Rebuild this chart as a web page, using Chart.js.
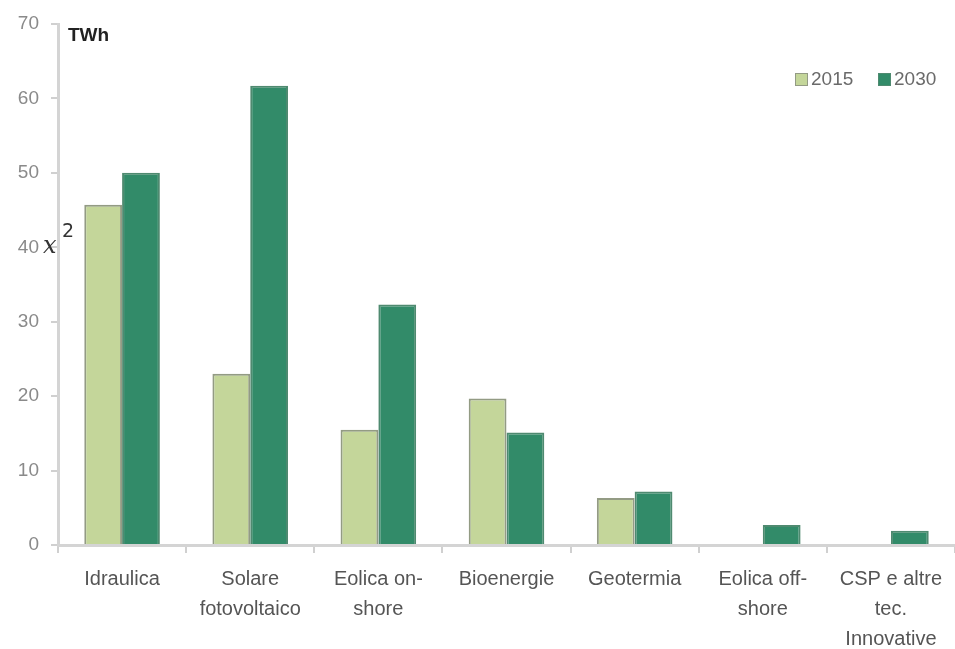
<!DOCTYPE html>
<html>
<head>
<meta charset="utf-8">
<script src="https://cdn.jsdelivr.net/npm/chart.js@4/dist/chart.umd.min.js"></script>
<style>
  html, body { margin: 0; padding: 0; background: #fff; }
  #wrap { width: 955px; height: 649px; }
</style>
</head>
<body>
<div id="wrap"><canvas id="chart" width="955" height="649"></canvas></div>
<script>
// produzione da rinnovabili, TWh
const categorie = [
    'Idraulica',
    ['Solare', 'fotovoltaico'],
    ['Eolica on-', 'shore'],
    'Bioenergie',
    'Geotermia',
    ['Eolica off-', 'shore'],
    ['CSP e altre', 'tec.', 'Innovative']
];
const anni = ['2015', '2030'];
const valori2015 = [45.7, 23.0, 15.5, 19.7, 6.3, 0, 0];
const valori2030 = [50.0, 61.7, 32.3, 15.1, 7.2, 2.7, 1.9];
const yTicks = [0, 10, 20, 30, 40, 50, 60, 70];

const FILL = ['#c4d69a', '#328b69'];
const BORDER = ['#939b84', '#4f8a70'];
const FONT = "'Liberation Sans', Arial, sans-serif";

// legenda, unità e annotazione disegnate sopra il grafico
const extras = {
    id: 'extras',
    afterDraw(chart) {
        const ctx = chart.ctx;
        const area = chart.chartArea;
        ctx.save();

        ctx.fillStyle = '#222';
        ctx.font = 'bold 19px ' + FONT;
        ctx.textBaseline = 'middle';
        ctx.fillText('TWh', area.left + 10, 36);

        ctx.fillStyle = '#333';
        ctx.font = 'italic 24px "DejaVu Serif", serif';
        ctx.textBaseline = 'alphabetic';
        ctx.fillText('x', 43, 253);
        ctx.font = '19px "DejaVu Sans", sans-serif';
        ctx.fillText('2', 62, 237);

        let x = 795;
        const y = 80;
        ctx.font = '19px ' + FONT;
        ctx.textBaseline = 'middle';
        chart.data.datasets.forEach((ds, i) => {
            ctx.fillStyle = ds.backgroundColor;
            ctx.fillRect(x, y - 7, 13, 13);
            ctx.strokeStyle = ds.borderColor;
            ctx.lineWidth = 1;
            ctx.strokeRect(x + 0.5, y - 6.5, 12, 12);
            ctx.fillStyle = '#6a6a6a';
            ctx.fillText(ds.label, x + 16, y);
            x += 83;
        });
        ctx.restore();
    }
};

new Chart(document.getElementById('chart'), {
    type: 'bar',
    data: {
        labels: categorie,
        datasets: [
            { label: anni[0], data: valori2015, backgroundColor: FILL[0], borderColor: BORDER[0], borderWidth: 2 },
            { label: anni[1], data: valori2030, backgroundColor: FILL[1], borderColor: BORDER[1], borderWidth: 2 }
        ]
    },
    options: {
        responsive: false,
        animation: false,
        layout: { padding: { top: 24, right: 0, left: 0, bottom: 0 } },
        datasets: { bar: { categoryPercentage: 0.59, barPercentage: 1.0 } },
        plugins: { legend: { display: false }, tooltip: { enabled: false } },
        scales: {
            x: {
                grid: { display: true, drawOnChartArea: false, offset: true, tickLength: 8, color: '#d0d0d0', lineWidth: 2 },
                border: { color: '#d4d4d4', width: 3 },
                ticks: { color: '#555', font: { family: FONT, size: 20, lineHeight: 1.5 }, padding: 11, maxRotation: 0, autoSkip: false },
                afterFit(scale) { scale.height = 104; }
            },
            y: {
                min: 0,
                max: 70,
                afterBuildTicks(scale) { scale.ticks = yTicks.map(v => ({ value: v })); },
                grid: { display: true, drawOnChartArea: false, tickLength: 7, color: '#d0d0d0', lineWidth: 2 },
                border: { color: '#d4d4d4', width: 3 },
                ticks: { color: '#8a8a8a', font: { family: FONT, size: 19 }, padding: 12 },
                afterFit(scale) { scale.width = 58; }
            }
        }
    },
    plugins: [extras]
});
</script>
</body>
</html>
